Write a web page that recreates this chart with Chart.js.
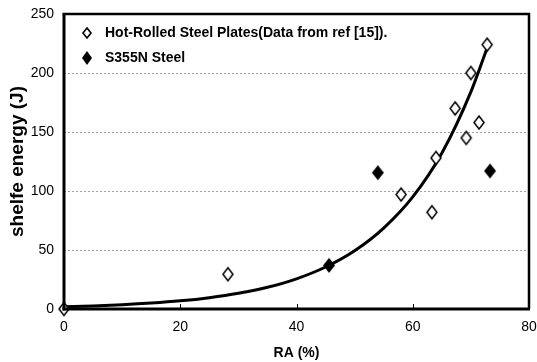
<!DOCTYPE html>
<html>
<head>
<meta charset="utf-8">
<script src="https://cdn.jsdelivr.net/npm/chart.js@4/dist/chart.umd.min.js"></script>
<style>
  html, body { margin: 0; padding: 0; background: #fff; }
  #wrap { width: 537px; height: 362px; position: relative; }
</style>
</head>
<body>
<div id="wrap"><canvas id="c" width="537" height="362"></canvas></div>
<script>
// ---- data ----
const hotLabel = 'Hot-Rolled Steel Plates(Data from ref [15]).';
const hotRA = [0, 28.2, 58, 63.3, 64, 67.3, 69.2, 70, 71.4, 72.8];
const hotEnergy = [0, 29.5, 97, 82, 128, 170, 145, 200, 158, 224];

const s355Label = 'S355N Steel';
const s355RA = [45.6, 54, 73.3];
const s355Energy = [37, 115.5, 117];

// trend curve
const fitRA = [0, 5, 10, 15, 20, 25, 30, 35, 40, 45, 50, 55, 60, 65, 70, 73];
const fitEnergy = [1.9, 2.6, 3.6, 5, 6.9, 9.6, 13.3, 18.4, 25.6, 35.6, 49.4, 68.6, 95, 132, 184, 224];

const xTicks = [0, 20, 40, 60, 80];
const yTicks = [0, 50, 100, 150, 200, 250];

const xTitle = 'RA (%)';
const yTitle = 'shelfe energy (J)';

// ---- marker images ----
function diamond(w, h, filled, lw) {
  const c = document.createElement('canvas');
  const pad = 2;
  c.width = w + pad * 2; c.height = h + pad * 2;
  const g = c.getContext('2d');
  g.beginPath();
  g.moveTo(pad + w / 2, pad);
  g.lineTo(pad + w, pad + h / 2);
  g.lineTo(pad + w / 2, pad + h);
  g.lineTo(pad, pad + h / 2);
  g.closePath();
  if (filled) { g.fillStyle = '#000'; g.fill(); }
  else { g.fillStyle = '#fff'; g.fill(); g.lineWidth = lw; g.strokeStyle = '#000'; g.stroke(); }
  return c;
}
const openMark = diamond(10, 13, false, 1.5);
const fillMark = diamond(12, 15, true, 0);
const openLeg = diamond(8, 10, false, 1.6);
const fillLeg = diamond(10, 14, true, 0);

const FONT = "'Liberation Sans', Arial, sans-serif";

const framePlugin = {
  id: 'frame',
  beforeDatasetsDraw(chart) {
    const { ctx, chartArea: a, scales } = chart;
    ctx.save();
    ctx.strokeStyle = '#a0a0a0';
    ctx.lineWidth = 1;
    ctx.setLineDash([2, 2]);
    yTicks.slice(1, -1).forEach(v => {
      const py = Math.round(scales.y.getPixelForValue(v)) + 0.5;
      ctx.beginPath(); ctx.moveTo(a.left, py); ctx.lineTo(a.right, py); ctx.stroke();
    });
    ctx.restore();
  },
  afterDatasetsDraw(chart) {
    const { ctx, chartArea: a, scales } = chart;
    ctx.save();
    ctx.strokeStyle = '#000';
    // inward x ticks
    ctx.lineWidth = 1;
    xTicks.slice(1, -1).forEach(v => {
      const px = Math.round(scales.x.getPixelForValue(v)) + 0.5;
      ctx.beginPath(); ctx.moveTo(px, a.bottom); ctx.lineTo(px, a.bottom - 5); ctx.stroke();
    });
    ctx.lineWidth = 3;
    ctx.beginPath(); ctx.moveTo(a.left, a.top); ctx.lineTo(a.left, a.bottom + 1.5); ctx.stroke();
    ctx.beginPath(); ctx.moveTo(a.left - 1.5, a.bottom); ctx.lineTo(a.right + 1, a.bottom); ctx.stroke();
    ctx.lineWidth = 2.5;
    ctx.beginPath(); ctx.moveTo(a.left - 1.5, a.top); ctx.lineTo(a.right, a.top); ctx.lineTo(a.right, a.bottom); ctx.stroke();
    ctx.restore();
  },
  afterDraw(chart) {
    const { ctx, chartArea: a } = chart;
    ctx.save();
    ctx.fillStyle = '#000';
    ctx.textBaseline = 'middle';
    ctx.textAlign = 'left';
    ctx.font = "bold 14px 'Liberation Sans', Arial, sans-serif";
    const items = [
      { img: openLeg, label: chart.data.datasets[0].label, y: a.top + 19 },
      { img: fillLeg, label: chart.data.datasets[1].label, y: a.top + 44 }
    ];
    items.forEach(it => {
      ctx.drawImage(it.img, 87 - it.img.width / 2, it.y - it.img.height / 2);
      ctx.fillText(it.label, 105, it.y);
    });
    ctx.restore();
  }
};

new Chart(document.getElementById('c'), {
  type: 'scatter',
  data: {
    datasets: [
      {
        label: hotLabel,
        data: hotRA.map((x, i) => ({ x, y: hotEnergy[i] })),
        pointStyle: openMark,
        order: 1,
        clip: false
      },
      {
        label: s355Label,
        data: s355RA.map((x, i) => ({ x, y: s355Energy[i] })),
        pointStyle: fillMark,
        order: 2,
        clip: false
      },
      {
        label: 'fit',
        type: 'line',
        data: fitRA.map((x, i) => ({ x, y: fitEnergy[i] })),
        borderColor: '#000',
        borderWidth: 3,
        pointRadius: 0,
        fill: false,
        tension: 0.4,
        cubicInterpolationMode: 'monotone',
        order: 3
      }
    ]
  },
  options: {
    responsive: false,
    animation: false,
    events: [],
    layout: { padding: { left: 0, right: 8, top: 14, bottom: 0 } },
    plugins: { legend: { display: false }, tooltip: { enabled: false } },
    scales: {
      x: {
        type: 'linear', min: 0, max: 80,
        afterBuildTicks: s => { s.ticks = xTicks.map(v => ({ value: v })); },
        afterFit: s => { s.height = 53; s.paddingLeft = 0; s.paddingRight = 0; },
        grid: { display: false, drawTicks: false },
        border: { display: false },
        ticks: { color: '#000', font: { family: FONT, size: 14 }, padding: 10, maxRotation: 0 },
        title: { display: true, text: xTitle, color: '#000', font: { family: FONT, size: 14, weight: 'bold' }, padding: { top: 1, bottom: 0 } }
      },
      y: {
        type: 'linear', min: 0, max: 250,
        afterBuildTicks: s => { s.ticks = yTicks.map(v => ({ value: v })); },
        afterFit: s => { s.width = 64; s.paddingTop = 0; s.paddingBottom = 0; },
        grid: { display: false, drawTicks: false },
        border: { display: false },
        ticks: { color: '#000', font: { family: FONT, size: 14 }, padding: 10 },
        title: { display: true, text: yTitle, color: '#000', font: { family: FONT, size: 19, weight: 'bold' }, padding: { top: 6, bottom: 4 } }
      }
    }
  },
  plugins: [framePlugin]
});
</script>
</body>
</html>
